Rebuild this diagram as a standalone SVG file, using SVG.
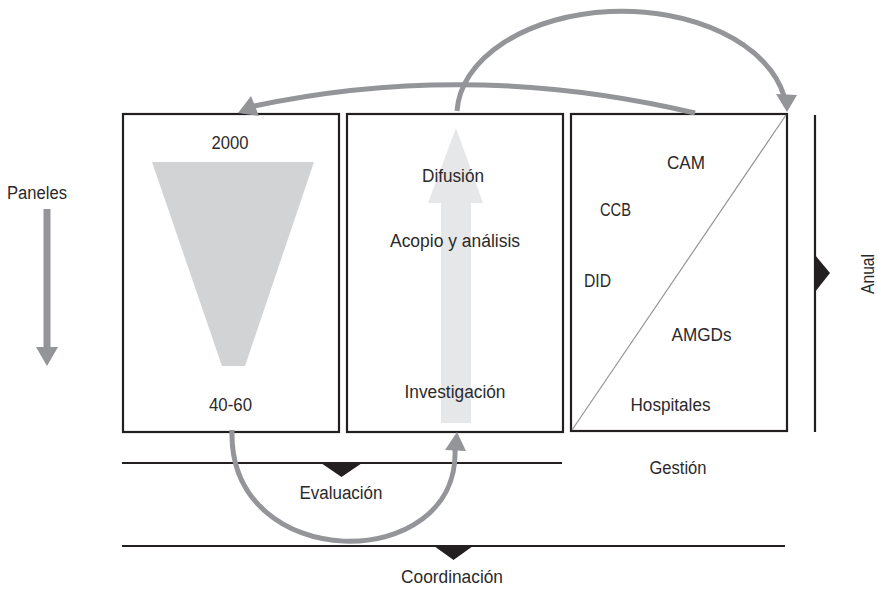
<svg xmlns="http://www.w3.org/2000/svg" width="877" height="589" viewBox="0 0 877 589">
  <style>
    .box { fill: #ffffff; stroke: #231f20; stroke-width: 2.2; }
    .lbl { font-family: "Liberation Sans", Arial, sans-serif; font-size: 18px; fill: #2b2a2b; text-anchor: middle; }
    .flow { fill: none; stroke: #939598; stroke-width: 5; }
    .head { fill: #939598; }
    .rule { stroke: #231f20; stroke-width: 2.2; fill: none; }
    .mark { fill: #231f20; }
  </style>

  <!-- Left axis: Paneles -->
  <g id="paneles">
    <text class="lbl" x="37" y="199" textLength="60" lengthAdjust="spacingAndGlyphs">Paneles</text>
    <rect x="43.5" y="209" width="7" height="139" fill="#939598"/>
    <polygon points="36,347 58,347 47,366" fill="#939598"/>
  </g>

  <!-- Panel 1: sample funnel -->
  <g id="panel-muestra">
    <rect class="box" x="123" y="114" width="216" height="318"/>
    <polygon points="152,162 314,162 245,366 222,366" fill="#d1d3d4"/>
    <text class="lbl" x="230" y="149" textLength="37" lengthAdjust="spacingAndGlyphs">2000</text>
    <text class="lbl" x="230.5" y="411" textLength="43" lengthAdjust="spacingAndGlyphs">40-60</text>
  </g>

  <!-- Panel 2: research process -->
  <g id="panel-proceso">
    <rect class="box" x="347" y="114" width="216" height="318"/>
    <polygon points="441,423 471,423 471,203 483,203 456,128 428,203 441,203" fill="#e6e7e8"/>
    <text class="lbl" x="453" y="182" textLength="62" lengthAdjust="spacingAndGlyphs">Difusión</text>
    <text class="lbl" x="455" y="247" textLength="130" lengthAdjust="spacingAndGlyphs">Acopio y análisis</text>
    <text class="lbl" x="455" y="398" textLength="101" lengthAdjust="spacingAndGlyphs">Investigación</text>
  </g>

  <!-- Panel 3: institutions -->
  <g id="panel-instituciones">
    <rect class="box" x="571" y="114" width="216" height="317"/>
    <line x1="572" y1="430" x2="786" y2="115" stroke="#939598" stroke-width="1.2"/>
    <text class="lbl" x="686" y="169" textLength="38" lengthAdjust="spacingAndGlyphs">CAM</text>
    <text class="lbl" x="615.5" y="216" textLength="31" lengthAdjust="spacingAndGlyphs">CCB</text>
    <text class="lbl" x="597.5" y="287" textLength="27" lengthAdjust="spacingAndGlyphs">DID</text>
    <text class="lbl" x="701.5" y="341" textLength="60" lengthAdjust="spacingAndGlyphs">AMGDs</text>
    <text class="lbl" x="670.5" y="411" textLength="80" lengthAdjust="spacingAndGlyphs">Hospitales</text>
  </g>

  <!-- Right axis: Anual -->
  <g id="anual">
    <line class="rule" x1="815" y1="115" x2="815" y2="432"/>
    <polygon class="mark" points="815,255 830,273 815,292"/>
    <text class="lbl" transform="translate(874,274) rotate(-90)" x="0" y="0" textLength="40" lengthAdjust="spacingAndGlyphs">Anual</text>
  </g>

  <!-- Bottom axes -->
  <g id="evaluacion">
    <line class="rule" x1="122" y1="463" x2="562" y2="463"/>
    <polygon class="mark" points="321,463 362,463 341.5,477"/>
    <text class="lbl" x="341" y="499" textLength="83" lengthAdjust="spacingAndGlyphs">Evaluación</text>
  </g>
  <g id="gestion">
    <text class="lbl" x="678" y="474" textLength="57" lengthAdjust="spacingAndGlyphs">Gestión</text>
  </g>
  <g id="coordinacion">
    <line class="rule" x1="122" y1="546" x2="785" y2="546"/>
    <polygon class="mark" points="434,546 473,546 453.5,560"/>
    <text class="lbl" x="452" y="583" textLength="102" lengthAdjust="spacingAndGlyphs">Coordinación</text>
  </g>

  <!-- Connectors -->
  <g id="connectors">
    <!-- return from institutions to sample panel -->
    <path class="flow" d="M695,113 Q470,60 254,106"/>
    <polygon class="head" points="238,113 251,96 259,116"/>
    <!-- process panel up and over to institutions -->
    <path class="flow" d="M457,111 A165,104 0 0 1 784,96"/>
    <polygon class="head" points="776,94 797,95 787,112"/>
    <!-- sample panel down and round into research -->
    <path class="flow" d="M232,430 C228,575 460,575 455,449"/>
    <polygon class="head" points="445,450 466,451 457,432"/>
  </g>
</svg>
